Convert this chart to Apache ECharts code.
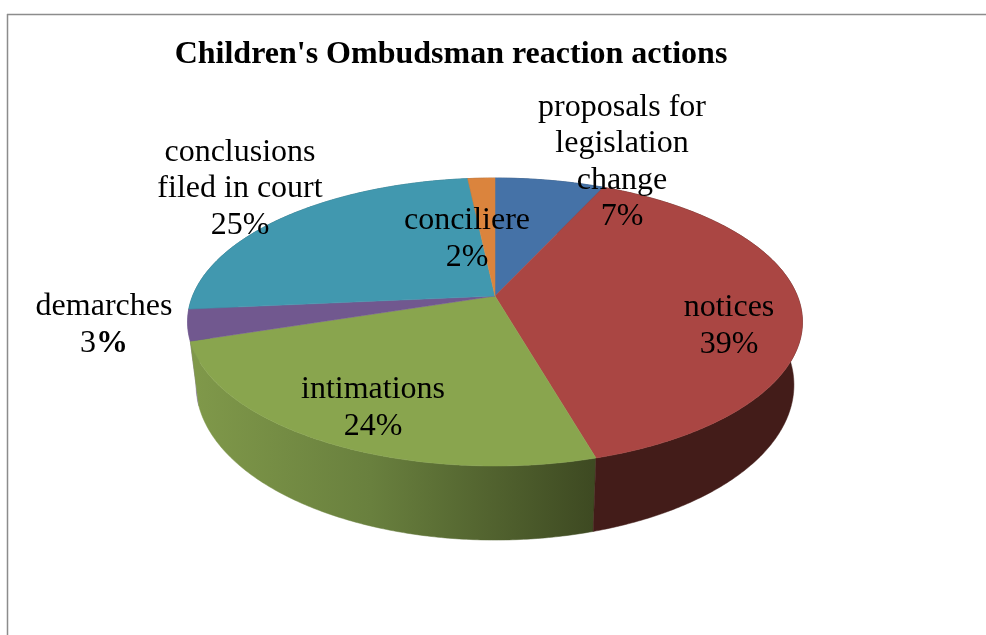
<!DOCTYPE html>
<html>
<head>
<meta charset="utf-8">
<title>Children's Ombudsman reaction actions</title>
<script src="https://cdn.jsdelivr.net/npm/echarts@6/dist/echarts.min.js"></script>
<style>
  html, body { margin: 0; padding: 0; background: #fff; }
  #chart { width: 986px; height: 635px; }
</style>
</head>
<body>
<div id="chart"></div>
<script>
const titleText = "Children's Ombudsman reaction actions"
const categories = ['proposals for\nlegislation\nchange', 'notices', 'intimations', 'demarches', 'conclusions\nfiled in court', 'conciliere']
const values = [6.85, 38.7, 24.49, 3.49, 24.77, 1.7]

const topColors = ['#4572a7', '#aa4643', '#89a54e', '#71588f', '#4198af', '#db843d']
const sideColors = ['#2c4768', '#431c19', null, '#8d7aa8', '#2a6272', '#8a5326']
// label centres, same order as categories
const labelPos = [[622, 162], [729, 326], [373, 408], [104, 325], [240, 189], [467, 239]]

const font = '"Liberation Serif", "Times New Roman", serif'
const labelSize = 32
const lineH = 36.5

// pie is a tilted disc: a perspective map of the unit circle
const persp = 0.1806
const topDisc = { x: 495, y: 296, a: 302.4, b: 139.3 }
const bottomDisc = { x: 495, y: 357, a: 294, b: 150 }

function project(disc, angle) {
  const X = Math.sin(angle)
  const Y = Math.cos(angle)
  const d = 1 + persp * Y
  return [disc.x + disc.a * X / d, disc.y - disc.b * Y / d]
}

const total = values.reduce((s, v) => s + v, 0)
let acc = 0
const slices = values.map(v => {
  const start = acc / total * Math.PI * 2
  acc += v
  return { start, end: acc / total * Math.PI * 2 }
})

function arc(disc, s) {
  const pts = []
  const n = Math.max(2, Math.ceil((s.end - s.start) / 0.01))
  for (let i = 0; i <= n; i++) {
    pts.push(project(disc, s.start + (s.end - s.start) * i / n))
  }
  return pts
}

function sideFill(i) {
  if (sideColors[i]) return sideColors[i]
  return new echarts.graphic.LinearGradient(190, 0, 592, 0, [
    { offset: 0, color: '#80994a' },
    { offset: 0.45, color: '#69803e' },
    { offset: 1, color: '#3e4a22' }
  ], true)
}

// walls go back to front, so the last slices are painted first
function renderSide(params) {
  const i = values.length - 1 - params.dataIndex
  const pts = arc(topDisc, slices[i]).concat(arc(bottomDisc, slices[i]).reverse())
  const fill = sideFill(i)
  return { type: 'polygon', shape: { points: pts }, style: { fill, stroke: fill, lineWidth: 0.5 } }
}

function renderTop(params) {
  const i = params.dataIndex
  const pts = [[topDisc.x, topDisc.y]].concat(arc(topDisc, slices[i]))
  return { type: 'polygon', shape: { points: pts }, style: { fill: topColors[i], stroke: topColors[i], lineWidth: 0.5 } }
}

function renderLabel(params) {
  const i = params.dataIndex
  const pct = Math.round(values[i] / total * 100)
  const name = categories[i].split('\n').map(l => '{n|' + l + '}').join('\n')
  // the demarches label has a bold percent sign in the original
  const pctText = i === 3 ? '{n|' + pct + '}{b|%}' : '{n|' + pct + '%}'
  return {
    type: 'text',
    style: {
      x: labelPos[i][0],
      y: labelPos[i][1],
      text: name + '\n' + pctText,
      align: 'center',
      verticalAlign: 'middle',
      rich: {
        n: { font: labelSize + 'px ' + font, fill: '#000', lineHeight: lineH, align: 'center' },
        b: { font: 'bold ' + labelSize + 'px ' + font, fill: '#000', lineHeight: lineH }
      }
    }
  }
}

const seriesData = categories.map((c, i) => ({ name: c, value: values[i] }))

const chart = echarts.init(document.getElementById('chart'), null, { renderer: 'canvas' })
chart.setOption({
  animation: false,
  backgroundColor: '#fff',
  title: {
    text: titleText,
    left: 446,
    top: 50,
    textAlign: 'center',
    textVerticalAlign: 'middle',
    textStyle: { fontFamily: font, fontWeight: 'bold', fontSize: 32, color: '#000' }
  },
  graphic: [
    { type: 'line', shape: { x1: 7, y1: 14.5, x2: 986, y2: 14.5 }, style: { stroke: '#8c8c8c', lineWidth: 1.5 } },
    { type: 'line', shape: { x1: 7.5, y1: 14, x2: 7.5, y2: 635 }, style: { stroke: '#8c8c8c', lineWidth: 1.5 } }
  ],
  series: [
    { type: 'custom', coordinateSystem: 'none', z: 2, renderItem: renderSide, data: seriesData },
    { type: 'custom', coordinateSystem: 'none', z: 3, renderItem: renderTop, data: seriesData },
    { type: 'custom', coordinateSystem: 'none', z: 4, renderItem: renderLabel, data: seriesData }
  ]
})
</script>
</body>
</html>
